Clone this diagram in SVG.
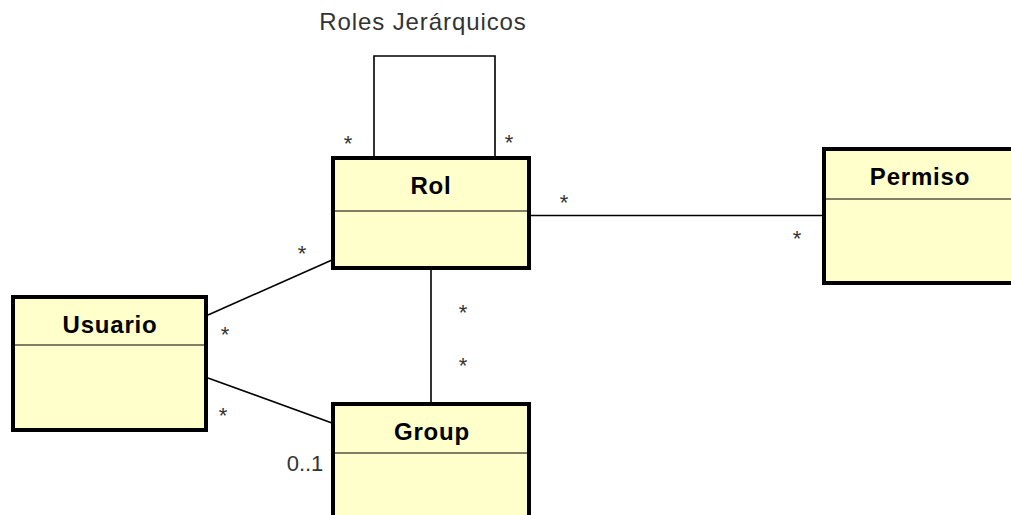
<svg xmlns="http://www.w3.org/2000/svg" width="1011" height="515" viewBox="0 0 1011 515">
  <style>
    .box { fill: #ffffcc; stroke: #000; stroke-width: 4; }
    .div { stroke: #000; stroke-width: 1.2; }
    .name { font-family: "Liberation Sans", Arial, sans-serif; font-weight: bold; font-size: 24px; letter-spacing: 0.8px; fill: #000; text-anchor: middle; }
    .edge { fill: none; stroke: #000; stroke-width: 1.6; }
    .mult { font-family: "Liberation Sans", Arial, sans-serif; font-size: 22px; fill: #333; text-anchor: middle; }
    .label { font-family: "Liberation Sans", Arial, sans-serif; font-size: 24px; letter-spacing: 0.9px; fill: #333; text-anchor: middle; }
  </style>
  <rect width="1011" height="515" fill="#fff"/>

  <!-- associations -->
  <g id="connectors">
    <path class="edge" d="M374 158 V56 H495 V158"/>
    <path class="edge" d="M531 215.5 H824"/>
    <path class="edge" d="M208 315 L332 260"/>
    <path class="edge" d="M208 378 L332 423"/>
    <path class="edge" d="M431 270 V403"/>
  </g>

  <!-- association label and multiplicities -->
  <g id="labels">
    <text class="label" x="423" y="30">Roles Jerárquicos</text>
    <text class="mult" x="348" y="151">*</text>
    <text class="mult" x="509" y="150">*</text>
    <text class="mult" x="302" y="261">*</text>
    <text class="mult" x="225" y="342">*</text>
    <text class="mult" x="223" y="423">*</text>
    <text class="mult" x="463" y="320">*</text>
    <text class="mult" x="463" y="373">*</text>
    <text class="mult" x="564" y="210">*</text>
    <text class="mult" x="797" y="246">*</text>
    <text class="mult" x="305" y="471">0..1</text>
  </g>

  <g id="rol">
    <rect class="box" x="333" y="158" width="196" height="110"/>
    <line class="div" x1="333" y1="211" x2="529" y2="211"/>
    <text class="name" x="431" y="194">Rol</text>
  </g>

  <g id="usuario">
    <rect class="box" x="13" y="297" width="193" height="133"/>
    <line class="div" x1="13" y1="345" x2="206" y2="345"/>
    <text class="name" x="110" y="333">Usuario</text>
  </g>

  <g id="group">
    <rect class="box" x="333" y="404" width="196" height="130"/>
    <line class="div" x1="333" y1="453" x2="529" y2="453"/>
    <text class="name" x="432" y="440">Group</text>
  </g>

  <g id="permiso">
    <rect class="box" x="824" y="149" width="200" height="134"/>
    <line class="div" x1="824" y1="199" x2="1024" y2="199"/>
    <text class="name" x="920" y="185">Permiso</text>
  </g>
</svg>
